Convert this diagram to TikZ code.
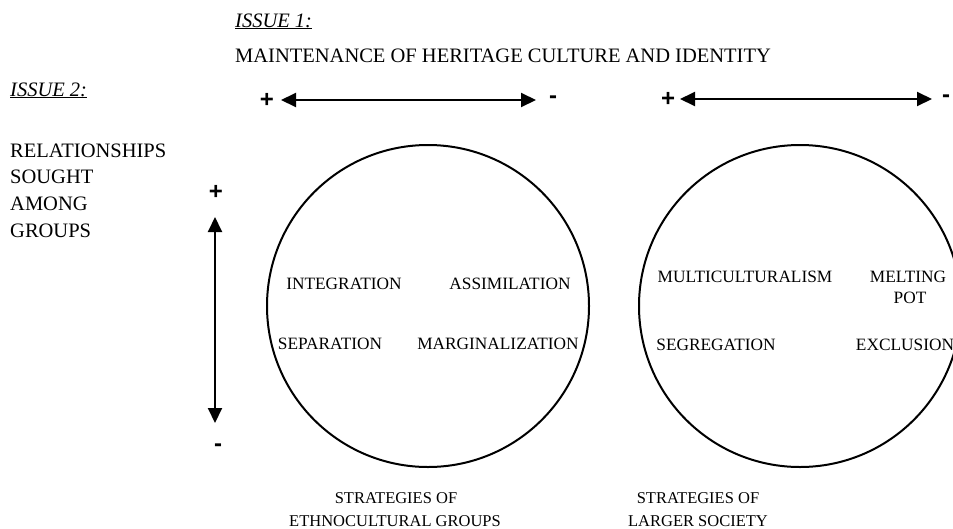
\documentclass[tikz,border=0pt]{standalone}
\usepackage{fontspec}
\setmainfont{Liberation Serif}
\setsansfont{Liberation Sans}
\usepackage{tikz}
\usetikzlibrary{shapes}
\usetikzlibrary{arrows.meta}
\tikzset{
    headtxt/.style = {inner sep=0pt, font=\fontsize{20.5}{24}\selectfont},
    cirtxt/.style = {inner sep=0pt, font=\fontsize{17.3}{21}\selectfont},
    captxt/.style = {inner sep=0pt, font=\fontsize{16.5}{20}\selectfont},
    signtxt/.style = {inner sep=0pt, font=\sffamily\bfseries\fontsize{24}{28}\selectfont},
    strategy/.style = {circle, draw=black, line width=2pt, minimum size=322pt, inner sep=0pt},
    edgeboth/.style = {{Triangle[length=15pt,width=14pt]}-{Triangle[length=15pt,width=14pt]}, line width=2pt}
}

\begin{document}
\begin{tikzpicture}[x=1pt, y=-1pt]
  \useasboundingbox (0,0) rectangle (953,528);

  % issue 1
  \node[headtxt, anchor=base west] (iss1) at (235,27) {\underline{\textit{ISSUE 1:}}};
  \node[headtxt, anchor=base west] (main) at (235,62) {MAINTENANCE OF HERITAGE CULTURE AND IDENTITY};

  % issue 2
  \node[headtxt, anchor=base west] (iss2) at (10,96) {\underline{\textit{ISSUE 2:}}};
  \node[headtxt, anchor=base west] (rel1) at (10,157) {RELATIONSHIPS};
  \node[headtxt, anchor=base west] (rel2) at (10,183) {SOUGHT};
  \node[headtxt, anchor=base west] (rel3) at (10,210) {AMONG};
  \node[headtxt, anchor=base west] (rel4) at (10,237) {GROUPS};

  % horizontal scales
  \node[signtxt] (p1) at (267,100) {+};
  \node[signtxt] (m1) at (553,100) {-};
  \coordinate (a1l) at (281,100);
  \coordinate (a1r) at (536,100);
  \draw[edgeboth] (a1l) -- (a1r);

  \node[signtxt] (p2) at (668,99) {+};
  \node[signtxt] (m2) at (946,99) {-};
  \coordinate (a2l) at (680,99);
  \coordinate (a2r) at (932,99);
  \draw[edgeboth] (a2l) -- (a2r);

  % vertical scale
  \node[signtxt] (pv) at (216,192) {+};
  \node[signtxt] (mv) at (218,448) {-};
  \coordinate (avt) at (215,217);
  \coordinate (avb) at (215,423);
  \draw[edgeboth] (avt) -- (avb);

  % circles
  \node[strategy] (ethno) at (428,306) {};
  \node[strategy] (larger) at (800,306) {};

  \node[cirtxt, anchor=base] (integ) at (344,289) {INTEGRATION};
  \node[cirtxt, anchor=base] (assim) at (510,289) {ASSIMILATION};
  \node[cirtxt, anchor=base] (separ) at (330,349) {SEPARATION};
  \node[cirtxt, anchor=base] (margi) at (498,349) {MARGINALIZATION};

  \node[cirtxt, anchor=base] (multi) at (745,282) {MULTICULTURALISM};
  \node[cirtxt, anchor=base] (melt) at (908,282) {MELTING};
  \node[cirtxt, anchor=base] (pot) at (910,303) {POT};
  \node[cirtxt, anchor=base] (segre) at (716,350) {SEGREGATION};
  \node[cirtxt, anchor=base] (exclu) at (905,350) {EXCLUSION};

  % captions
  \node[captxt, anchor=base] (cap1a) at (396,503) {STRATEGIES OF};
  \node[captxt, anchor=base] (cap1b) at (395,526) {ETHNOCULTURAL GROUPS};
  \node[captxt, anchor=base] (cap2a) at (698,503) {STRATEGIES OF};
  \node[captxt, anchor=base] (cap2b) at (698,526) {LARGER SOCIETY};

\end{tikzpicture}
\end{document}
